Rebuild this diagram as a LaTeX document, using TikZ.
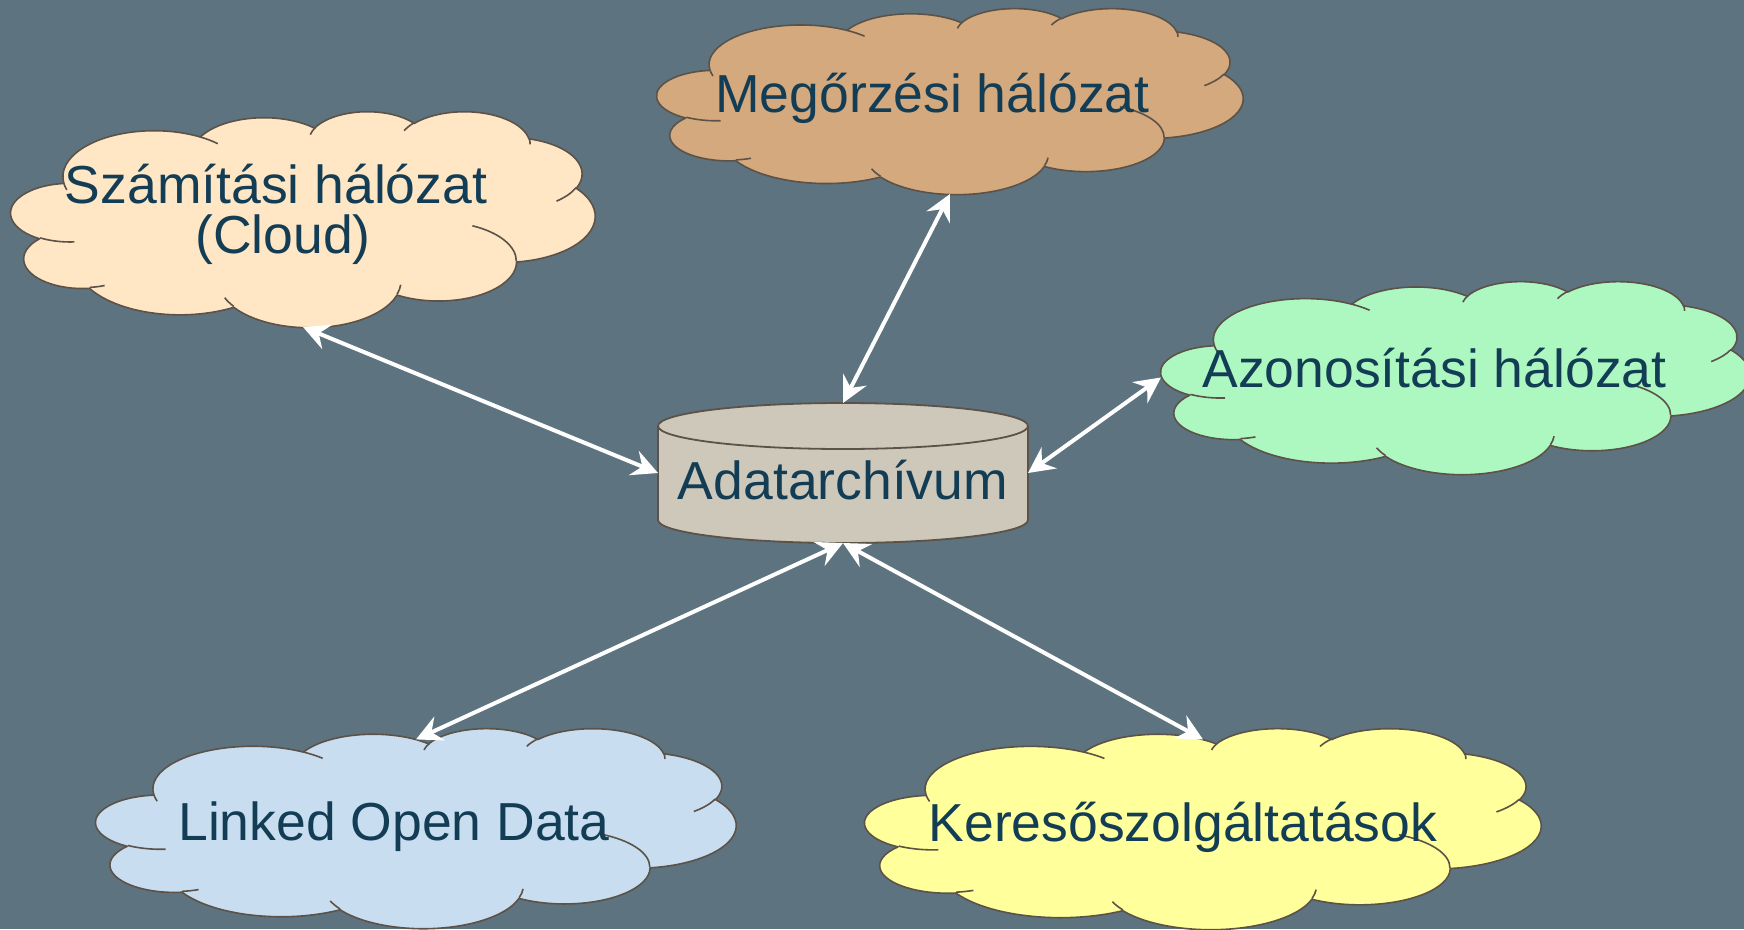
\documentclass[tikz,border=0pt]{standalone}
\usepackage{fontspec}
\setmainfont{Liberation Sans}
\usetikzlibrary{arrows.meta}
\definecolor{bgc}{RGB}{93,115,127}
\definecolor{cbord}{RGB}{92,82,72}
\definecolor{txtc}{RGB}{19,61,85}
\definecolor{cszam}{RGB}{255,230,197}
\definecolor{cmego}{RGB}{212,169,126}
\definecolor{cazon}{RGB}{173,248,193}
\definecolor{clod}{RGB}{200,221,240}
\definecolor{cker}{RGB}{255,255,155}
\definecolor{ccyl}{RGB}{206,200,186}
% PowerPoint cloud geometry (43.2 x 43.2 path units, in thousands)
\newcommand\cmv[2]{%
  \pgfmathsetmacro\cPx{\ccx+#1/43.2*\ccw}%
  \pgfmathsetmacro\cPy{0-\ccy-#2/43.2*\cch}%
  \pgfpathmoveto{\pgfpoint{\cPx pt}{\cPy pt}}}
\newcommand\carc[4]{%
  \pgfmathsetmacro\cTs{atan2(#1*sin(#3),#2*cos(#3))}%
  \pgfmathsetmacro\cTe{atan2(#1*sin(#3+#4),#2*cos(#3+#4))}%
  \pgfmathsetmacro\cDd{mod(mod(\cTe-\cTs,360)+360,360)}%
  \pgfmathsetmacro\cArcA{0-\cTs}%
  \pgfmathsetmacro\cArcB{0-\cTs-\cDd}%
  \pgfmathsetmacro\cRx{#1/43.2*\ccw}%
  \pgfmathsetmacro\cRy{#2/43.2*\cch}%
  \pgfpatharc{\cArcA}{\cArcB}{\cRx pt and \cRy pt}}
\newcommand\pptcloud[5]{%
  \begin{pgfscope}%
  \def\ccx{#2}\def\ccy{#3}\def\ccw{#4}\def\cch{#5}%
  \pgfsetfillcolor{#1}\pgfsetstrokecolor{cbord}\pgfsetlinewidth{1.6pt}%
  \pgfsetroundjoin
  \cmv{3.900}{14.370}%
  \carc{6.753}{9.190}{-190.487483}{123.780533}%
  \carc{5.333}{7.267}{-144.102383}{89.945233}%
  \carc{4.365}{5.945}{-145.807917}{99.723017}%
  \carc{4.857}{6.595}{-130.986067}{117.241733}%
  \carc{5.333}{7.273}{-78.708883}{109.026917}%
  \carc{6.775}{9.220}{-46.26725}{130.269}%
  \carc{5.785}{7.867}{0.625017}{114.033333}%
  \carc{6.752}{9.215}{22.4516}{115.17255}%
  \carc{7.720}{10.543}{66.242633}{75.711017}%
  \carc{4.360}{5.918}{-274.942083}{146.735567}%
  \carc{4.345}{5.945}{-246.8285}{152.51885}%
  \pgfpathclose
  \pgfusepath{fill,stroke}%
  \cmv{4.693}{26.177}\carc{4.345}{5.945}{86.742}{26.4295}%
  \cmv{6.928}{34.899}\carc{4.360}{5.918}{73.610467}{11.447467}%
  \cmv{16.478}{39.090}\carc{6.752}{9.215}{137.62415}{14.0811}%
  \cmv{28.827}{34.751}\carc{6.752}{9.215}{6.453267}{15.99835}%
  \cmv{34.129}{22.954}\carc{5.785}{7.867}{-70.29235}{70.917367}%
  \cmv{41.798}{15.354}\carc{5.333}{7.273}{30.318033}{27.7515}%
  \cmv{38.324}{5.426}\carc{4.857}{6.595}{-13.744333}{14.8589}%
  \cmv{29.078}{3.952}\carc{4.857}{6.595}{-149.18145}{18.195367}%
  \cmv{22.141}{4.720}\carc{4.365}{5.945}{-163.494267}{17.68635}%
  \cmv{14.000}{5.192}\carc{6.753}{9.190}{-66.70695}{12.31935}%
  \cmv{4.127}{15.789}\carc{6.753}{9.190}{157.65435}{11.858167}%
  \pgfusepath{stroke}%
  \end{pgfscope}}
\begin{document}
\begin{tikzpicture}[x=1pt,y=-1pt,
  cloudbox/.style={rectangle,inner sep=0pt,outer sep=0pt},
  lbl/.style={font=\fontsize{53.5}{50}\selectfont,text=txtc,inner sep=0pt,anchor=base},
  conn/.style={draw=white,line width=4pt,
    {Stealth[length=26pt,width=26pt,inset=9pt]}-{Stealth[length=26pt,width=26pt,inset=9pt]}}]
\fill[bgc] (0,0) rectangle (1744,929);
\useasboundingbox (0,0) rectangle (1744,929);
% clouds
\pptcloud{cszam}{11}{111}{584}{216}
\pptcloud{cmego}{657}{8}{586}{186}
\pptcloud{cazon}{1161}{281}{589}{193}
\pptcloud{clod}{96}{728}{640}{200}
\pptcloud{cker}{865}{728}{676}{201}
\node[cloudbox,minimum width=584pt,minimum height=216pt] (szam) at (303,219) {};
\node[cloudbox,minimum width=586pt,minimum height=186pt] (mego) at (950,101) {};
\node[cloudbox,minimum width=589pt,minimum height=193pt] (azon) at (1455.5,377.5) {};
\node[cloudbox,minimum width=640pt,minimum height=200pt] (lod) at (416,828) {};
\node[cloudbox,minimum width=676pt,minimum height=201pt] (ker) at (1203,828.5) {};
% cylinder
\fill[ccyl] (658,426) -- (658,520) arc[start angle=180,end angle=360,x radius=185pt,y radius=23pt]
  -- (1028,426) arc[start angle=0,end angle=180,x radius=185pt,y radius=23pt] -- cycle;
\draw[cbord,line width=1.8pt] (658,426) -- (658,520) arc[start angle=180,end angle=360,x radius=185pt,y radius=23pt]
  -- (1028,426);
\draw[cbord,line width=1.8pt] (843,426) ellipse[x radius=185pt,y radius=23pt];
\node[cloudbox,minimum width=370pt,minimum height=140pt] (adat) at (843,473) {};
% labels
\node[lbl] (szamT) at (276,203) {Számítási hálózat};
\node[lbl] (szamC) at (283,253) {(Cloud)};
\node[lbl] (megoT) at (932.5,112) {Megőrzési hálózat};
\node[lbl] (azonT) at (1434.5,387) {Azonosítási hálózat};
\node[lbl] (adatT) at (843,499) {Adatarchívum};
\node[lbl] (lodT) at (394,840) {Linked Open Data};
\node[lbl] (kerT) at (1183,841) {Keresőszolgáltatások};
% connectors
\draw[conn] (szam.south) -- (adat.west);
\draw[conn] (mego.south) -- (adat.north);
\draw[conn] (azon.west) -- (adat.east);
\draw[conn] (adat.south) -- ([yshift=-11.4pt]lod.north);
\draw[conn] (adat.south) -- ([yshift=-11.4pt]ker.north);
\end{tikzpicture}
\end{document}
